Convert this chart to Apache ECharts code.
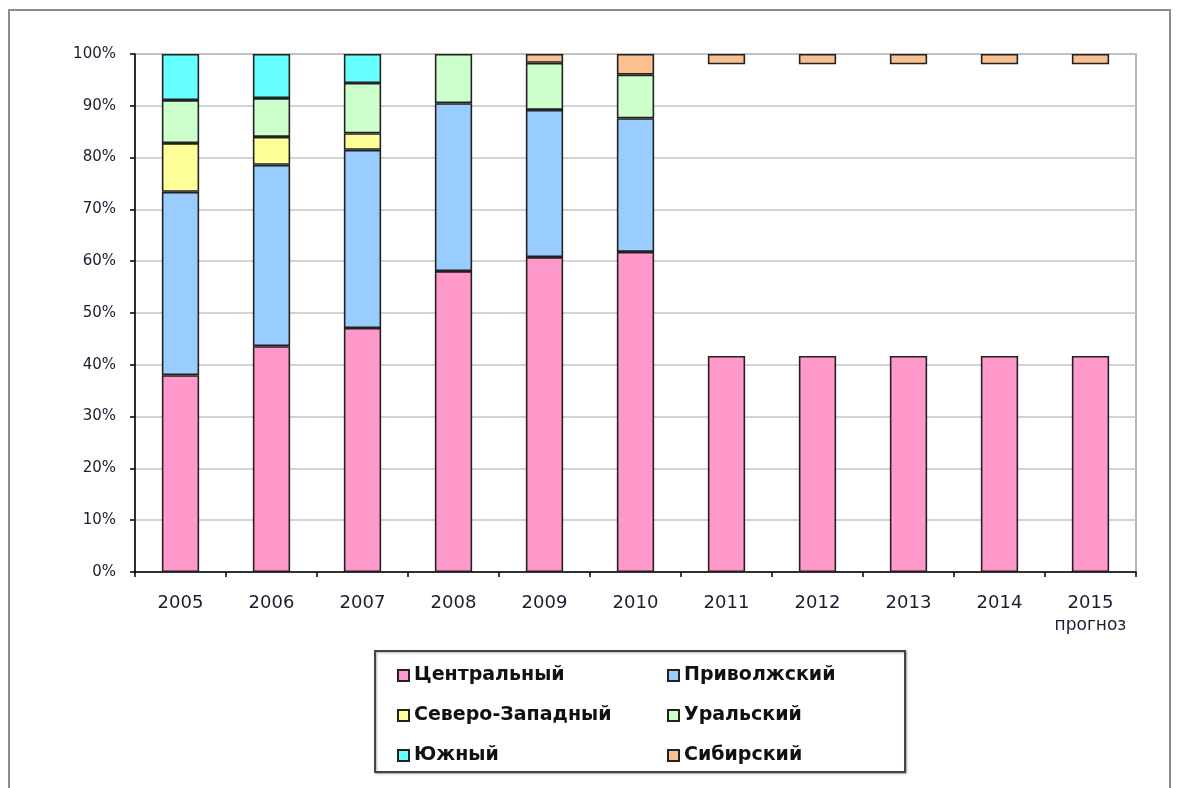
<!DOCTYPE html>
<html>
<head>
<meta charset="utf-8">
<script src="https://cdn.jsdelivr.net/npm/echarts@6/dist/echarts.min.js"></script>
<style>
  html, body { margin: 0; padding: 0; background: #fff; }
  #main { width: 1181px; height: 788px; }
</style>
</head>
<body>
<div id="main"></div>
<script>
// годы (2015 - прогноз)
const years = ['2005', '2006', '2007', '2008', '2009', '2010', '2011', '2012', '2013', '2014', '2015'];
// доли по округам, %
const central   = [38.0, 43.6, 47.1, 58.1, 60.8, 61.8, 41.7, 41.7, 41.7, 41.7, 41.7];
const volga     = [35.4, 35.0, 34.4, 32.4, 28.4, 25.8, '-', '-', '-', '-', '-'];
const northWest = [9.4, 5.4, 3.2, '-', '-', '-', '-', '-', '-', '-', '-'];
const ural      = [8.3, 7.5, 9.7, 9.5, 9.1, 8.4, '-', '-', '-', '-', '-'];
const south     = [8.9, 8.5, 5.6, '-', '-', '-', '-', '-', '-', '-', '-'];
// пустой промежуток в прогнозных столбцах (не показан)
const blank     = ['-', '-', '-', '-', '-', '-', 56.3, 56.3, 56.3, 56.3, 56.3];
const siberia   = ['-', '-', '-', '-', 1.7, 4.0, 2.0, 2.0, 2.0, 2.0, 2.0];
const yTicks = [0, 10, 20, 30, 40, 50, 60, 70, 80, 90, 100];

const chart = echarts.init(document.getElementById('main'));

const txt = '#1c1c30';
const font = 'DejaVu Sans, Liberation Sans, sans-serif';
function bar(name, data, color) {
  return {
    name: name,
    type: 'bar',
    stack: 'total',
    data: data,
    barCategoryGap: '59%',
    itemStyle: { color: color, borderColor: '#222', borderWidth: 1.6 }
  };
}
const legendText = { fontFamily: font, fontSize: 19, fontWeight: 'bold', color: '#111' };

chart.setOption({
  backgroundColor: '#fff',
  animation: false,
  textStyle: { fontFamily: font },
  grid: {
    left: 135, right: 45, top: 54, bottom: 216,
    show: true, borderColor: '#a0a0a0', borderWidth: 1.5
  },
  xAxis: {
    type: 'category',
    data: years,
    axisLine: { lineStyle: { color: '#000', width: 1.5 } },
    axisTick: { show: true, interval: 0, length: 5, lineStyle: { color: '#000', width: 1.5 } },
    axisLabel: {
      interval: 0,
      color: txt, fontSize: 18, margin: 22, fontFamily: font,
      formatter: function (v) { return v === '2015' ? v + '\n{s|прогноз}' : v; },
      rich: { s: { fontSize: 17, color: txt, lineHeight: 28, fontFamily: font } }
    }
  },
  yAxis: {
    type: 'value',
    min: 0, max: 100, interval: 10,
    axisLine: { show: true, lineStyle: { color: '#000', width: 1.5 } },
    axisTick: { show: true, length: 5, lineStyle: { color: '#000', width: 1.5 } },
    splitLine: { lineStyle: { color: '#c4c4c4', width: 1.5 } },
    axisLabel: {
      color: txt, fontSize: 15, margin: 19, fontFamily: font,
      formatter: function (v) { return yTicks.indexOf(v) >= 0 ? v + '%' : ''; }
    }
  },
  legend: [
    {
      orient: 'vertical', left: 392, top: 661, itemGap: 21,
      icon: 'rect', itemWidth: 11, itemHeight: 11,
      textStyle: legendText,
      data: ['Центральный', 'Северо-Западный', 'Южный']
    },
    {
      orient: 'vertical', left: 662, top: 661, itemGap: 21,
      icon: 'rect', itemWidth: 11, itemHeight: 11,
      textStyle: legendText,
      data: ['Приволжский', 'Уральский', 'Сибирский']
    }
  ],
  graphic: [
    {
      type: 'rect', silent: true, z: -1,
      shape: { x: 9, y: 10, width: 1161, height: 790 },
      style: { fill: 'none', stroke: '#8c8c8c', lineWidth: 2 }
    },
    {
      type: 'rect', silent: true, z: -1,
      shape: { x: 375, y: 651, width: 530, height: 121 },
      style: { fill: '#fff', stroke: '#444', lineWidth: 2, shadowColor: 'rgba(0,0,0,0.3)', shadowOffsetX: 1, shadowOffsetY: 1, shadowBlur: 2 }
    }
  ],
  series: [
    bar('Центральный', central, '#ff99cc'),
    bar('Приволжский', volga, '#99ccff'),
    bar('Северо-Западный', northWest, '#ffff99'),
    bar('Уральский', ural, '#ccffcc'),
    bar('Южный', south, '#66ffff'),
    {
      name: 'blank', type: 'bar', stack: 'total', data: blank,
      silent: true,
      itemStyle: { color: 'rgba(0,0,0,0)', borderWidth: 0 }
    },
    bar('Сибирский', siberia, '#fac090')
  ]
});
</script>
</body>
</html>
